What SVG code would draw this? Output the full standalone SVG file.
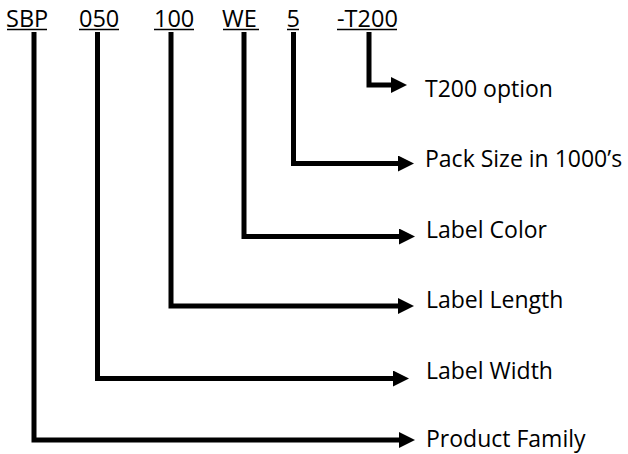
<svg xmlns="http://www.w3.org/2000/svg" width="628" height="454" viewBox="0 0 628 454">
  <style>
    text { font-family: "Open Sans", "Liberation Sans", sans-serif; fill: #000; }
    .code { font-size: 23.5px; }
    .lbl { font-size: 23px; }
    .ul { stroke: #000; stroke-width: 1.5; }
    .conn { fill: none; stroke: #000; stroke-width: 5; stroke-linejoin: miter; stroke-linecap: butt; }
  </style>
  <defs>
    <marker id="ah" markerUnits="userSpaceOnUse" viewBox="0 0 16 16" refX="0" refY="8" markerWidth="16" markerHeight="16" orient="auto">
      <polygon points="0,0 16,8 0,16" fill="#000"/>
    </marker>
  </defs>
  <rect width="628" height="454" fill="#fff"/>

  <g id="codes">
    <g id="code-sbp"><text class="code" x="6" y="26.5">SBP</text><line class="ul" x1="7" y1="29.5" x2="47" y2="29.5"/></g>
    <g id="code-050"><text class="code" x="79" y="26.5">050</text><line class="ul" x1="79" y1="29.5" x2="119" y2="29.5"/></g>
    <g id="code-100"><text class="code" x="154" y="26.5">100</text><line class="ul" x1="154" y1="29.5" x2="194" y2="29.5"/></g>
    <g id="code-we"><text class="code" x="222" y="26.5">WE</text><line class="ul" x1="223" y1="29.5" x2="259" y2="29.5"/></g>
    <g id="code-5"><text class="code" x="286.5" y="26.5">5</text><line class="ul" x1="287" y1="29.5" x2="299" y2="29.5"/></g>
    <g id="code-t200"><text class="code" x="337" y="26.5">-T200</text><line class="ul" x1="337" y1="29.5" x2="397" y2="29.5"/></g>
  </g>

  <g id="connectors">
    <path class="conn" d="M369,32 V85 H391" marker-end="url(#ah)"/>
    <path class="conn" d="M293.5,32 V163.5 H398" marker-end="url(#ah)"/>
    <path class="conn" d="M244,32 V236.5 H399" marker-end="url(#ah)"/>
    <path class="conn" d="M171,32 V306 H398" marker-end="url(#ah)"/>
    <path class="conn" d="M97.5,32 V378.5 H393" marker-end="url(#ah)"/>
    <path class="conn" d="M34,32 V440 H399" marker-end="url(#ah)"/>
  </g>

  <g id="label-t200"><text class="lbl" x="425" y="97">T200 option</text></g>
  <g id="label-pack"><text class="lbl" x="425" y="167">Pack Size in 1000’s</text></g>
  <g id="label-color"><text class="lbl" x="426" y="238">Label Color</text></g>
  <g id="label-length"><text class="lbl" x="426" y="307.5">Label Length</text></g>
  <g id="label-width"><text class="lbl" x="426" y="378.5">Label Width</text></g>
  <g id="label-family"><text class="lbl" x="426" y="446.5">Product Family</text></g>
</svg>
